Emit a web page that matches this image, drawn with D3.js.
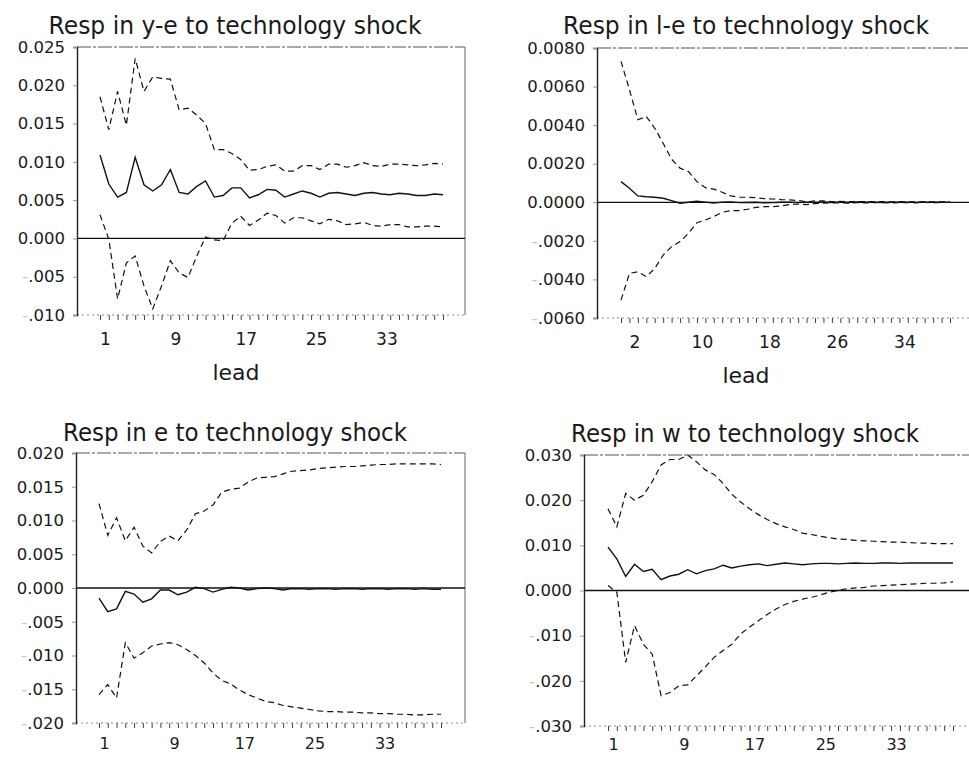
<!DOCTYPE html>
<html>
<head>
<meta charset="utf-8">
<script src="https://cdn.jsdelivr.net/npm/d3@7/dist/d3.min.js"></script>
<style>
  html, body { margin: 0; padding: 0; background: #fff; }
  svg { display: block; }
  text { font-family: "DejaVu Sans", "Liberation Sans", sans-serif; fill: #1a1a1a; }
</style>
</head>
<body>
<svg id="chart" width="969" height="758"></svg>
<script>
// Impulse responses to a technology shock, leads 1..40
const leads = d3.range(1, 41);

// y-e
const yeResp  = [0.0109,0.0071,0.0054,0.0060,0.0106,0.0070,0.0062,0.0070,0.0090,0.0060,
                 0.0058,0.0068,0.0075,0.0054,0.0056,0.0066,0.0066,0.0053,0.0057,0.0064,
                 0.0063,0.0054,0.0058,0.0062,0.0059,0.0054,0.0059,0.0060,0.0058,0.0056,
                 0.0059,0.0060,0.0058,0.0057,0.0059,0.0058,0.0056,0.0056,0.0058,0.0057];
const yeUpper = [0.0185,0.0142,0.0192,0.0148,0.0235,0.0192,0.0211,0.0209,0.0208,0.0168,
                 0.0170,0.0161,0.0150,0.0116,0.0116,0.0111,0.0103,0.0089,0.0090,0.0094,
                 0.0096,0.0088,0.0088,0.0095,0.0095,0.0090,0.0097,0.0097,0.0093,0.0095,
                 0.0099,0.0095,0.0094,0.0097,0.0097,0.0096,0.0095,0.0096,0.0098,0.0097];
const yeLower = [0.0031,-0.0001,-0.0079,-0.0032,-0.0023,-0.0062,-0.0092,-0.0062,-0.0029,-0.0045,
                 -0.0051,-0.0023,0.0002,-0.0002,-0.0003,0.0020,0.0029,0.0017,0.0024,0.0033,
                 0.0030,0.0020,0.0027,0.0027,0.0023,0.0019,0.0025,0.0023,0.0018,0.0019,
                 0.0021,0.0017,0.0016,0.0018,0.0018,0.0015,0.0015,0.0016,0.0016,0.0015];

// l-e
const leResp  = [0.00107,0.00073,0.00033,0.00029,0.00026,0.00021,0.00009,-0.00005,0.00000,0.00005,
                 0.00001,-0.00004,0.00001,0.00002,-0.00002,-0.00001,0.00000,-0.00003,-0.00002,0.00000,
                 0.00001,-0.00002,0.00001,-0.00001,0.00002,-0.00002,0.00002,-0.00001,0.00002,0.00000,
                 0.00001,-0.00001,0.00001,0.00000,0.00001,-0.00001,0.00001,0.00000,0.00001,0.00000];
const leUpper = [0.00731,0.00584,0.00428,0.00445,0.00384,0.00306,0.00223,0.00177,0.00159,0.00107,
                 0.00076,0.00068,0.00052,0.00033,0.00026,0.00026,0.00024,0.00019,0.00017,0.00014,
                 0.00012,0.00009,0.00003,0.00007,0.00007,0.00003,0.00005,0.00003,0.00003,0.00004,
                 0.00003,0.00003,0.00002,0.00003,0.00002,0.00002,0.00003,0.00002,0.00002,0.00002];
const leLower = [-0.00507,-0.00369,-0.00360,-0.00386,-0.00343,-0.00274,-0.00230,-0.00204,-0.00161,-0.00106,
                 -0.00092,-0.00074,-0.00052,-0.00043,-0.00043,-0.00036,-0.00026,-0.00023,-0.00023,-0.00019,
                 -0.00012,-0.00009,-0.00012,-0.00007,-0.00005,-0.00003,-0.00003,-0.00004,-0.00002,-0.00003,
                 -0.00002,-0.00002,-0.00003,-0.00002,-0.00002,-0.00002,-0.00001,-0.00002,-0.00001,-0.00001];

// e
const eResp   = [-0.0015,-0.0035,-0.0031,-0.0005,-0.0009,-0.0021,-0.0016,-0.0003,-0.0003,-0.0010,
                 -0.0006,0.0001,-0.0001,-0.0006,-0.0002,0.0001,0.0000,-0.0003,-0.0001,0.0000,
                 -0.0001,-0.0003,-0.0001,-0.0001,-0.0002,-0.0001,-0.0001,-0.0002,-0.0001,-0.0001,
                 -0.0002,-0.0001,-0.0001,-0.0002,-0.0001,-0.0001,-0.0002,-0.0001,-0.0002,-0.0002];
const eUpper  = [0.0125,0.0078,0.0104,0.0070,0.0090,0.0062,0.0052,0.0069,0.0077,0.0070,
                 0.0086,0.0110,0.0114,0.0123,0.0142,0.0146,0.0148,0.0157,0.0163,0.0164,
                 0.0165,0.0169,0.0173,0.0174,0.0175,0.0177,0.0178,0.0179,0.0180,0.0180,
                 0.0181,0.0182,0.0183,0.0183,0.0184,0.0184,0.0184,0.0184,0.0184,0.0183];
const eLower  = [-0.0158,-0.0143,-0.0163,-0.0081,-0.0104,-0.0096,-0.0086,-0.0083,-0.0081,-0.0084,
                 -0.0091,-0.0100,-0.0111,-0.0126,-0.0137,-0.0142,-0.0151,-0.0158,-0.0163,-0.0168,
                 -0.0170,-0.0174,-0.0176,-0.0178,-0.0180,-0.0182,-0.0183,-0.0183,-0.0184,-0.0184,
                 -0.0185,-0.0185,-0.0186,-0.0186,-0.0187,-0.0187,-0.0188,-0.0188,-0.0187,-0.0187];

// w
const wResp   = [0.0096,0.0070,0.0031,0.0058,0.0042,0.0047,0.0024,0.0032,0.0036,0.0046,
                 0.0037,0.0044,0.0048,0.0056,0.0050,0.0054,0.0057,0.0059,0.0055,0.0058,
                 0.0061,0.0059,0.0057,0.0059,0.0060,0.0060,0.0059,0.0060,0.0061,0.0060,
                 0.0060,0.0061,0.0061,0.0060,0.0061,0.0061,0.0061,0.0061,0.0061,0.0061];
const wUpper  = [0.0181,0.0141,0.0215,0.0200,0.0211,0.0241,0.0278,0.0290,0.0290,0.0300,
                 0.0285,0.0267,0.0257,0.0237,0.0213,0.0196,0.0181,0.0168,0.0157,0.0148,
                 0.0141,0.0135,0.0127,0.0124,0.0120,0.0117,0.0114,0.0113,0.0111,0.0110,
                 0.0109,0.0108,0.0107,0.0107,0.0106,0.0105,0.0105,0.0104,0.0104,0.0104];
const wLower  = [0.0011,-0.0004,-0.0159,-0.0078,-0.0119,-0.0141,-0.0233,-0.0226,-0.0211,-0.0209,
                 -0.0189,-0.0169,-0.0148,-0.0133,-0.0119,-0.0096,-0.0081,-0.0067,-0.0053,-0.0041,
                 -0.0031,-0.0024,-0.0019,-0.0015,-0.0010,-0.0004,0.0000,0.0004,0.0006,0.0007,
                 0.0010,0.0011,0.0012,0.0013,0.0014,0.0015,0.0016,0.0016,0.0017,0.0019];

// Axis tick values and labels
const yeTicks = [-0.010,-0.005,0.000,0.005,0.010,0.015,0.020,0.025];
const leTicks = [-0.006,-0.004,-0.002,0.000,0.002,0.004,0.006,0.008];
const eTicks  = [-0.020,-0.015,-0.010,-0.005,0.000,0.005,0.010,0.015,0.020];
const wTicks  = [-0.030,-0.020,-0.010,0.000,0.010,0.020,0.030];
const leadLabelsA = [1, 9, 17, 25, 33];
const leadLabelsB = [2, 10, 18, 26, 34];

const titles = [
  "Resp in y-e to technology shock",
  "Resp in l-e to technology shock",
  "Resp in e to technology shock",
  "Resp in w to technology shock"
];

const panels = [
  { title: titles[0], resp: yeResp, upper: yeUpper, lower: yeLower, ticks: yeTicks, digits: 3,
    labels: leadLabelsA, left: 77, right: 465, top: 47, bottom: 315, x0: 100, x1: 443,
    titleX: 235, titleY: 34, titleLen: 373, xLabel: "lead", xLabelX: 236, rightBorder: true,
    xPad: 13, xFont: 17 },
  { title: titles[1], resp: leResp, upper: leUpper, lower: leLower, ticks: leTicks, digits: 4,
    labels: leadLabelsB, left: 597, right: 969, top: 48, bottom: 318, x0: 621, x1: 950,
    titleX: 746, titleY: 34, titleLen: 366, xLabel: "lead", xLabelX: 746, rightBorder: false,
    xPad: 13, xFont: 17 },
  { title: titles[2], resp: eResp, upper: eUpper, lower: eLower, ticks: eTicks, digits: 3,
    labels: leadLabelsA, left: 76, right: 465, top: 453, bottom: 723, x0: 99, x1: 441,
    titleX: 235, titleY: 441, titleLen: 344, xLabel: null, rightBorder: true,
    xPad: 10, xFont: 16 },
  { title: titles[3], resp: wResp, upper: wUpper, lower: wLower, ticks: wTicks, digits: 3,
    labels: leadLabelsA, left: 584, right: 969, top: 455, bottom: 726, x0: 608, x1: 953,
    titleX: 745, titleY: 442, titleLen: 348, xLabel: null, rightBorder: false,
    xPad: 8, xFont: 16 }
];

const svg = d3.select("#chart");

function fmt(v, digits) {
  if (Math.abs(v) < 1e-12) return { sign: "", body: (0).toFixed(digits) };
  const s = Math.abs(v).toFixed(digits);
  return v < 0 ? { sign: "-", body: s.replace(/^0/, "") } : { sign: "", body: s };
}

panels.forEach(p => {
  const g = svg.append("g");

  const x = d3.scaleLinear().domain([1, 40]).range([p.x0, p.x1]);
  const y = d3.scaleLinear()
    .domain([d3.min(p.ticks), d3.max(p.ticks)])
    .range([p.bottom, p.top]);

  // Title
  g.append("text")
    .attr("x", p.titleX).attr("y", p.titleY)
    .attr("text-anchor", "middle")
    .attr("font-size", 24)
    .attr("textLength", p.titleLen)
    .attr("lengthAdjust", "spacingAndGlyphs")
    .text(p.title);

  // Frame: top rule, right rule, dotted bottom rule
  g.append("line")
    .attr("x1", p.left).attr("x2", p.right)
    .attr("y1", p.top).attr("y2", p.top)
    .attr("stroke", "#555").attr("stroke-width", 1.2)
    .attr("stroke-dasharray", "14,2,3,2");
  if (p.rightBorder) {
    g.append("line")
      .attr("x1", p.right).attr("x2", p.right)
      .attr("y1", p.top).attr("y2", p.bottom)
      .attr("stroke", "#666").attr("stroke-width", 1);
  }
  g.append("line")
    .attr("x1", p.left).attr("x2", p.right)
    .attr("y1", p.bottom).attr("y2", p.bottom)
    .attr("stroke", "#888").attr("stroke-width", 1)
    .attr("stroke-dasharray", "2,3");

  // Y axis
  const yAxis = d3.axisLeft(y)
    .tickValues(p.ticks)
    .tickSize(4)
    .tickPadding(8)
    .tickFormat(() => "");
  const ya = g.append("g")
    .attr("transform", `translate(${p.left},0)`)
    .call(yAxis);
  ya.select(".domain").attr("stroke", "#222").attr("stroke-width", 1.4);
  ya.selectAll(".tick line").attr("stroke", "#999");
  ya.selectAll(".tick text")
    .attr("font-size", 16.5)
    .attr("fill", "#222")
    .each(function(d) {
      const f = fmt(d, p.digits);
      const t = d3.select(this);
      if (f.sign) t.append("tspan").attr("fill", "#c4c4c4").text(f.sign);
      t.append("tspan").text(f.body);
    });

  // X axis: a tick per lead, labelled every eighth lead
  const xAxis = d3.axisBottom(x)
    .tickValues(leads)
    .tickSize(5)
    .tickPadding(p.xPad)
    .tickFormat(d => p.labels.includes(d) ? d : "");
  const xa = g.append("g")
    .attr("transform", `translate(0,${p.bottom})`)
    .call(xAxis);
  xa.select(".domain").remove();
  xa.selectAll(".tick line").attr("stroke", "#444").attr("stroke-width", 1);
  xa.selectAll(".tick text")
    .attr("font-size", p.xFont)
    .attr("fill", "#222")
    .attr("dx", 5);

  if (p.xLabel) {
    g.append("text")
      .attr("x", p.xLabelX).attr("y", p.bottom + 65)
      .attr("text-anchor", "middle")
      .attr("font-size", 22)
      .text(p.xLabel);
  }

  // Zero line
  g.append("line")
    .attr("x1", p.left).attr("x2", p.right)
    .attr("y1", y(0)).attr("y2", y(0))
    .attr("stroke", "#111").attr("stroke-width", 1.3);

  const line = d3.line().x((d, i) => x(leads[i])).y(d => y(d));

  // Confidence bands
  [p.upper, p.lower].forEach(series => {
    g.append("path")
      .datum(series)
      .attr("d", line)
      .attr("fill", "none")
      .attr("stroke", "#111")
      .attr("stroke-width", 1.2)
      .attr("stroke-dasharray", "6,4");
  });

  // Point estimate
  g.append("path")
    .datum(p.resp)
    .attr("d", line)
    .attr("fill", "none")
    .attr("stroke", "#111")
    .attr("stroke-width", 1.4);
});
</script>
</body>
</html>
